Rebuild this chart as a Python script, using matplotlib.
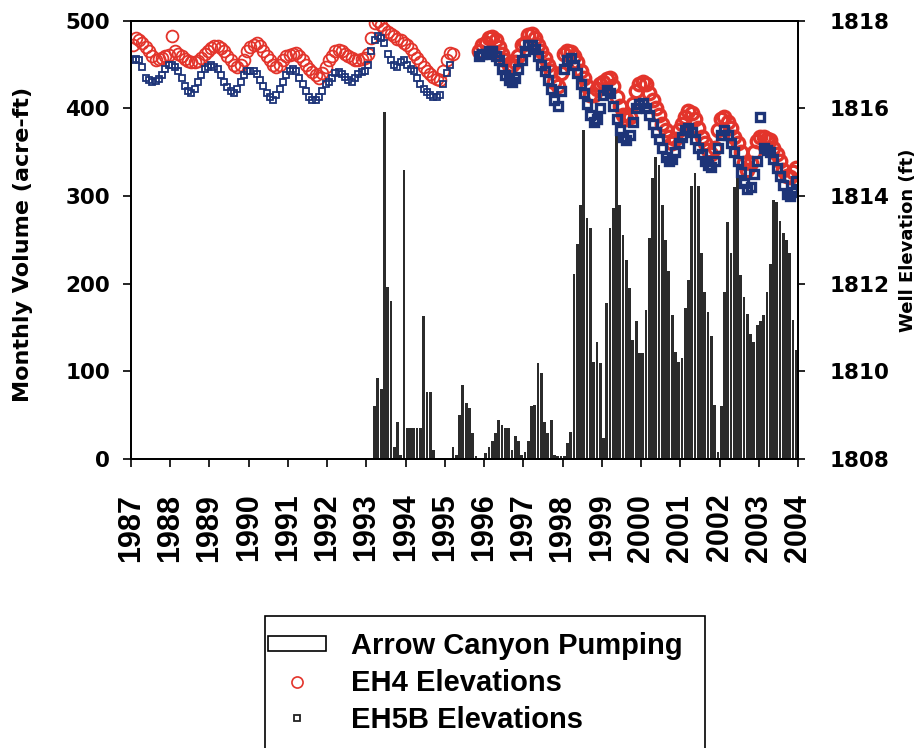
import matplotlib
matplotlib.use("Agg")
import matplotlib.pyplot as plt
import numpy as np
from matplotlib.patches import Patch, Rectangle
from matplotlib.lines import Line2D
from matplotlib.font_manager import FontProperties

# ---------------- data ----------------
years = list(range(1987, 2005))
year_labels = [str(y) for y in years]
left_ticks = [0, 100, 200, 300, 400, 500]
right_ticks = [1808, 1810, 1812, 1814, 1816, 1818]

# Arrow Canyon monthly pumping (acre-ft), Jan..Dec
pump_1987 = [0, 0, 0, 0, 0, 0, 0, 0, 0, 0, 0, 0]
pump_1988 = [0, 0, 0, 0, 0, 0, 0, 0, 0, 0, 0, 0]
pump_1989 = [0, 0, 0, 0, 0, 0, 0, 0, 0, 0, 0, 0]
pump_1990 = [0, 0, 0, 0, 0, 0, 0, 0, 0, 0, 0, 0]
pump_1991 = [0, 0, 0, 0, 0, 0, 0, 0, 0, 0, 0, 0]
pump_1992 = [0, 0, 0, 0, 0, 0, 0, 0, 0, 0, 0, 0]
pump_1993 = [0, 0, 60, 92, 80, 396, 196, 180, 14, 42, 5, 330]
pump_1994 = [35, 35, 35, 35, 35, 163, 77, 77, 10, 0, 0, 0]
pump_1995 = [0, 0, 14, 5, 50, 84, 64, 58, 30, 3, 0, 0]
pump_1996 = [7, 14, 21, 30, 44, 39, 35, 35, 10, 26, 20, 5]
pump_1997 = [8, 20, 60, 62, 109, 98, 42, 30, 45, 5, 3, 3]
pump_1998 = [3, 18, 31, 211, 245, 290, 375, 275, 263, 111, 134, 109]
pump_1999 = [24, 178, 263, 286, 375, 290, 255, 227, 195, 136, 157, 121]
pump_2000 = [121, 170, 252, 320, 345, 335, 290, 250, 215, 164, 122, 111]
pump_2001 = [115, 172, 204, 312, 326, 312, 235, 190, 168, 140, 62, 8]
pump_2002 = [60, 191, 270, 235, 310, 320, 210, 185, 165, 143, 134, 153]
pump_2003 = [157, 164, 190, 223, 295, 293, 272, 258, 250, 235, 158, 124]

# EH4 elevations (ft), monthly: Jan 1987 - Mar 1995, then Nov 1995 - Dec 2003
eh4_early = [
    1817.45, 1817.6, 1817.55, 1817.5, 1817.4, 1817.3, 1817.2, 1817.1, 1817.12, 1817.15, 1817.2, 1817.22,
    1817.65, 1817.3, 1817.25, 1817.2, 1817.12, 1817.08, 1817.05, 1817.05, 1817.08, 1817.15, 1817.25, 1817.32,
    1817.38, 1817.42, 1817.42, 1817.38, 1817.3, 1817.2, 1817.1, 1817.0, 1816.95, 1816.98, 1817.1, 1817.3,
    1817.4, 1817.45, 1817.48, 1817.42, 1817.32, 1817.2, 1817.1, 1817.0, 1816.95, 1817.0, 1817.1, 1817.2,
    1817.22, 1817.25, 1817.27, 1817.2, 1817.1, 1817.0, 1816.9, 1816.82, 1816.75, 1816.7, 1816.8, 1816.95,
    1817.1, 1817.2, 1817.3, 1817.33, 1817.3, 1817.25, 1817.2, 1817.15, 1817.1, 1817.1, 1817.12, 1817.15,
    1817.25, 1817.6, 1817.95, 1818.0, 1817.9, 1817.8, 1817.75, 1817.7, 1817.65, 1817.58, 1817.55, 1817.5,
    1817.45, 1817.35, 1817.25, 1817.15, 1817.05, 1816.95, 1816.85, 1816.78, 1816.72, 1816.68, 1816.65, 1816.85,
    1817.1, 1817.26, 1817.25,
]
eh4_late = [
    1817.3, 1817.45,
    1817.5, 1817.6, 1817.63, 1817.55, 1817.4, 1817.25, 1817.1, 1817.0, 1816.98, 1817.05, 1817.2, 1817.45,
    1817.5, 1817.68, 1817.7, 1817.6, 1817.45, 1817.3, 1817.15, 1817.0, 1816.85, 1816.6, 1816.5, 1816.8,
    1817.25, 1817.3, 1817.28, 1817.2, 1817.05, 1816.85, 1816.7, 1816.5, 1816.3, 1816.3, 1816.45, 1816.55,
    1816.6, 1816.68, 1816.7, 1816.5, 1816.25, 1816.05, 1815.85, 1815.75, 1815.8, 1816.1, 1816.4, 1816.55,
    1816.6, 1816.55, 1816.35, 1816.2, 1816.0, 1815.85, 1815.65, 1815.5, 1815.35, 1815.22, 1815.3, 1815.5,
    1815.65, 1815.8, 1815.95, 1815.9, 1815.75, 1815.55, 1815.35, 1815.2, 1815.05, 1814.95, 1815.1, 1815.5,
    1815.75, 1815.8, 1815.7, 1815.55, 1815.35, 1815.2, 1815.0, 1814.75, 1814.6, 1814.75, 1815.0, 1815.25,
    1815.35, 1815.35, 1815.3, 1815.28, 1815.1, 1814.95, 1814.8, 1814.6, 1814.45, 1814.43, 1814.55, 1814.65,
]

# EH5B elevations (ft), monthly: Jan 1987 - Feb 1995, then Nov 1995 - Dec 2003
eh5b_early = [
    1817.1, 1817.12, 1817.1, 1816.95, 1816.7, 1816.65, 1816.6, 1816.62, 1816.68, 1816.75, 1816.9, 1817.0,
    1817.0, 1816.95, 1816.85, 1816.7, 1816.5, 1816.4, 1816.35, 1816.45, 1816.6, 1816.75, 1816.9, 1816.95,
    1817.0, 1816.95, 1816.9, 1816.75, 1816.6, 1816.48, 1816.4, 1816.35, 1816.45, 1816.6, 1816.75, 1816.85,
    1816.85, 1816.85, 1816.78, 1816.65, 1816.5, 1816.35, 1816.25, 1816.2, 1816.3, 1816.45, 1816.6, 1816.75,
    1816.85, 1816.9, 1816.85, 1816.7, 1816.55, 1816.4, 1816.25, 1816.2, 1816.2, 1816.25, 1816.4, 1816.55,
    1816.6, 1816.7, 1816.8, 1816.82, 1816.78, 1816.72, 1816.65, 1816.6, 1816.7, 1816.78, 1816.82, 1816.85,
    1817.0, 1817.3, 1817.55, 1817.65, 1817.6, 1817.5, 1817.25, 1817.1, 1817.0, 1816.95, 1817.05, 1817.1,
    1817.0, 1816.9, 1816.85, 1816.7, 1816.55, 1816.45, 1816.38, 1816.3, 1816.27, 1816.25, 1816.3, 1816.55,
    1816.8, 1817.0,
]
eh5b_late = [
    1817.2, 1817.25,
    1817.25, 1817.3, 1817.3, 1817.2, 1817.1, 1816.9, 1816.75, 1816.65, 1816.6, 1816.7, 1816.9, 1817.1,
    1817.3, 1817.45, 1817.45, 1817.35, 1817.2, 1817.0, 1816.85, 1816.65, 1816.45, 1816.2, 1816.05, 1816.4,
    1816.9, 1817.1, 1817.15, 1817.0, 1816.8, 1816.55, 1816.35, 1816.1, 1815.85, 1815.7, 1815.75, 1816.0,
    1816.3, 1816.42, 1816.35, 1816.05, 1815.75, 1815.5, 1815.35, 1815.28, 1815.4, 1815.7, 1816.0, 1816.1,
    1816.12, 1816.0, 1815.85, 1815.65, 1815.45, 1815.3, 1815.1, 1814.9, 1814.8, 1814.85, 1815.0, 1815.2,
    1815.35, 1815.5, 1815.55, 1815.45, 1815.3, 1815.1, 1814.95, 1814.8, 1814.7, 1814.66, 1814.8, 1815.1,
    1815.4, 1815.5, 1815.4, 1815.2, 1815.0, 1814.8, 1814.55, 1814.3, 1814.15, 1814.2, 1814.5, 1814.8,
    1815.8, 1815.1, 1815.05, 1815.0, 1814.85, 1814.65, 1814.45, 1814.25, 1814.05, 1814.0, 1814.1, 1814.35,
]

legend_labels = ["Arrow Canyon Pumping", "EH4 Elevations", "EH5B Elevations"]

# ---------------- figure ----------------
RED = "#e3342b"
BLUE = "#1d3478"
BAR = "#2b2b2b"

W, H = 918, 748
fig = plt.figure(figsize=(W / 100, H / 100), dpi=100)
ax = fig.add_axes([131 / W, 1 - 459 / H, (798 - 131) / W, (459 - 20.7) / H])

pumping = (pump_1987 + pump_1988 + pump_1989 + pump_1990 + pump_1991 + pump_1992 +
           pump_1993 + pump_1994 + pump_1995 + pump_1996 + pump_1997 + pump_1998 +
           pump_1999 + pump_2000 + pump_2001 + pump_2002 + pump_2003)
m = np.arange(len(pumping))
ax.bar(1987 + (m + 0.5) / 12, pumping, width=0.85 / 12, color=BAR,
       edgecolor="none", zorder=2)

ax.set_xlim(1987, 2004)
ax.set_ylim(0, 500)

tick_font_y = dict(family="DejaVu Sans", weight="bold", size=15.5)
ax.set_yticks(left_ticks)
ax.set_yticklabels([str(v) for v in left_ticks], fontdict=tick_font_y)
ax.set_xticks(years)
ax.set_xticklabels(year_labels, rotation=90, fontfamily="Liberation Sans",
                   fontweight="bold", fontsize=22)
ax.tick_params(axis="y", direction="out", length=6, width=1.2, pad=9)
ax.tick_params(axis="x", direction="out", length=6, width=1.2, pad=19)
ax.set_ylabel("Monthly Volume (acre-ft)", family="DejaVu Sans", weight="bold",
              fontsize=16)
ax.yaxis.set_label_coords((33 - 131) / (798 - 131), 0.49)
for s in ax.spines.values():
    s.set_linewidth(1.3)

ax2 = ax.twinx()
ax2.set_ylim(1808, 1818)
ax2.set_yticks(right_ticks)
ax2.set_yticklabels([str(v) for v in right_ticks], fontdict=tick_font_y)
ax2.tick_params(axis="y", direction="out", length=5, width=1.2, pad=18)
for s in ax2.spines.values():
    s.set_linewidth(1.3)

def month_x(start_year, start_month, n):
    k = np.arange(n)
    return start_year + (start_month - 1 + k + 0.5) / 12

x_eh4_early = month_x(1987, 1, len(eh4_early))
x_eh4_late = month_x(1995, 11, len(eh4_late))
x_eh5b_early = month_x(1987, 1, len(eh5b_early))
x_eh5b_late = month_x(1995, 11, len(eh5b_late))

ax2.plot(x_eh4_early, eh4_early, ls="none", marker="o", ms=8.5, mfc="none",
         mec=RED, mew=1.3)
ax2.plot(x_eh4_late, eh4_late, ls="none", marker="o", ms=9, mfc="none",
         mec=RED, mew=2.4)
ax2.plot(x_eh5b_early, eh5b_early, ls="none", marker="s", ms=4.3, mfc="none",
         mec=BLUE, mew=1.3)
ax2.plot(x_eh5b_late, eh5b_late, ls="none", marker="s", ms=5.5, mfc="none",
         mec=BLUE, mew=2.4)

# right-axis title (in the scan it sits at the very page edge)
fig.text(917 / W, 1 - 240 / H, "Well Elevation (ft)", rotation=90, ha="right",
         va="center", family="DejaVu Sans", weight="bold", fontsize=13)

# legend
handles = [
    Patch(facecolor="white", edgecolor="black", linewidth=1.2),
    Line2D([], [], ls="none", marker="o", ms=8, mfc="none", mec=RED, mew=1.2),
    Line2D([], [], ls="none", marker="s", ms=4.3, mfc="none", mec="#222222", mew=1.3),
]
fig.legend(handles, legend_labels, loc="upper left",
           bbox_to_anchor=(268 / W, 1 - 632 / H), frameon=False,
           prop=FontProperties(family="Liberation Sans", weight="bold", size=21),
           handlelength=2.0, handleheight=0.45, handletextpad=0.85,
           labelspacing=0.3, borderpad=0, borderaxespad=0)
fig.patches.append(Rectangle((265 / W, 1 - 760 / H), 440 / W, 144 / H,
                             transform=fig.transFigure, fill=False,
                             edgecolor="black", linewidth=1.2, clip_on=False))

fig.savefig("out.png", dpi=100)
